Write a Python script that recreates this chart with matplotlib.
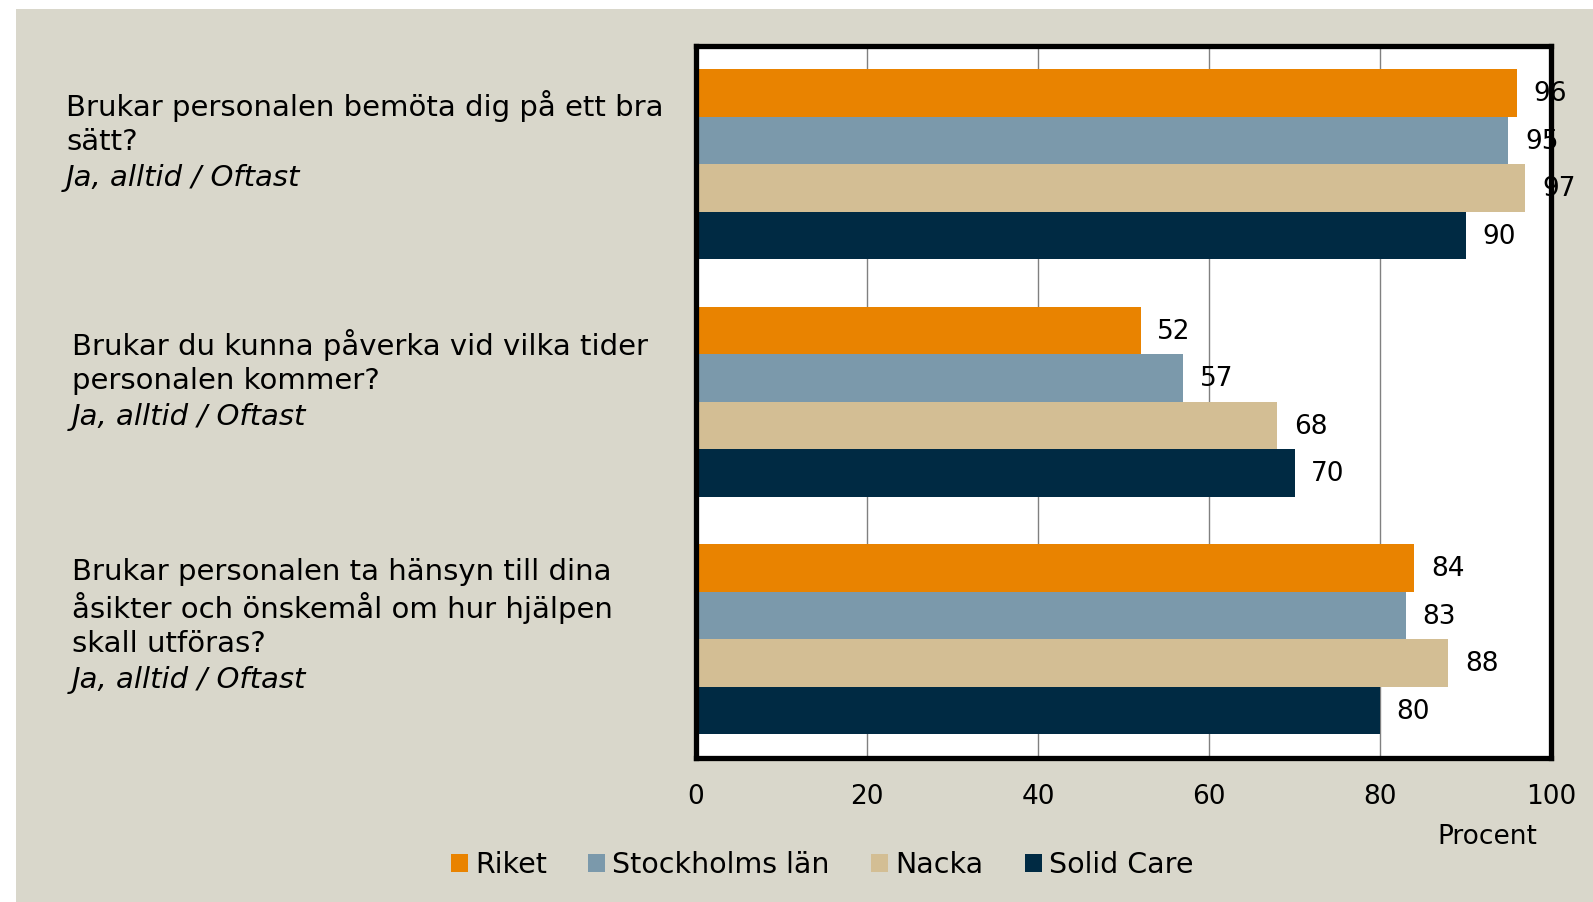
import matplotlib
matplotlib.use("Agg")
import matplotlib.pyplot as plt
from matplotlib.patches import Rectangle, Patch
import numpy as np

plt.rcParams['font.family'] = ['DejaVu Sans']

# frågor (övre till nedre)
questions = [
    "Brukar personalen bemöta dig på ett bra\nsätt?",
    "Brukar du kunna påverka vid vilka tider\npersonalen kommer?",
    "Brukar personalen ta hänsyn till dina\nåsikter och önskemål om hur hjälpen\nskall utföras?",
]
subtitle = "Ja, alltid / Oftast"
series = ["Riket", "Stockholms län", "Nacka", "Solid Care"]
riket = [96, 52, 84]
stockholm = [95, 57, 83]
nacka = [97, 68, 88]
solid_care = [90, 70, 80]
colors = ["#E98300", "#7B99AB", "#D3BE94", "#002A43"]

W, H = 1593, 902
fig = plt.figure(figsize=(W / 100, H / 100), dpi=100, facecolor="white")
# beige bakgrund med vit kant uppe och till vänster
bg = Rectangle((16 / W, 0), 1 - 16 / W, 1 - 9 / H, transform=fig.transFigure,
               facecolor="#D9D7CB", edgecolor="none", zorder=-10)
fig.add_artist(bg)

ax = fig.add_axes([696 / W, 1 - 758 / H, (1551 - 696) / W, (758 - 45.5) / H])
ax.set_zorder(1)
ax.set_facecolor("white")

y = np.arange(len(questions))
h = 0.2
vals = [riket, stockholm, nacka, solid_care]
for i, (v, c) in enumerate(zip(vals, colors)):
    pos = y + (i - 1.5) * h
    ax.barh(pos, v, height=h, color=c, zorder=3)
    for p, val in zip(pos, v):
        ax.annotate(str(val), (val, p), xytext=(12, -1), textcoords="offset points",
                    ha="left", va="center", fontsize=19, color="black",
                    zorder=6, annotation_clip=False)

ax.set_xlim(0, 100)
ax.set_ylim(2.5, -0.5)
ax.set_xticks([0, 20, 40, 60, 80, 100])
ax.set_yticks([])
ax.tick_params(axis="x", length=0, pad=19, labelsize=19)
ax.grid(axis="x", color="#808080", linewidth=1, zorder=1)
ax.set_axisbelow(True)
for s in ax.spines.values():
    s.set_linewidth(3.8)
    s.set_color("black")
    s.set_zorder(5)

fig.text(1487 / W, 1 - 837 / H, "Procent", ha="center", va="center", fontsize=19)

# frågetexter, en rad i taget
text_pos = [(66, 142), (72, 381), (72, 626)]
step = 36.3
for q, (px, py) in zip(questions, text_pos):
    lines = q.split("\n") + [subtitle]
    top = py - (len(lines) - 1) * step / 2
    for k, line in enumerate(lines):
        fig.text(px / W, 1 - (top + k * step) / H, line, ha="left", va="center",
                 fontsize=21, style="italic" if line == subtitle else "normal")

handles = [Patch(facecolor=c, edgecolor="none") for c in colors]
fig.legend(handles, series, loc="center", bbox_to_anchor=(822 / W, 1 - 865 / H),
           ncol=4, frameon=False, fontsize=20.5, handlelength=0.6, handleheight=0.6,
           handletextpad=0.25, columnspacing=1.45)

fig.savefig("out.png", dpi=100, facecolor=fig.get_facecolor())
